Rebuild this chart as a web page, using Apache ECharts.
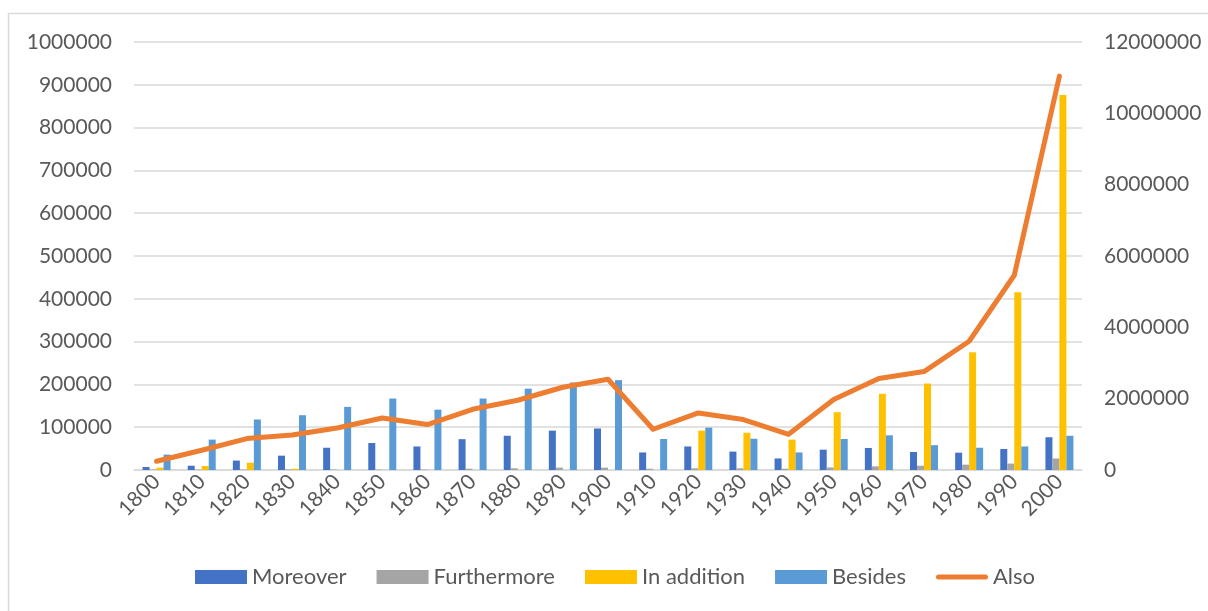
<!DOCTYPE html>
<html lang="en">
<head>
    <meta charset="UTF-8">
    <title>Moreover / Furthermore / In addition / Besides / Also</title>
    <script src="https://cdn.jsdelivr.net/npm/echarts@6/dist/echarts.min.js"></script>
    <style>
        html, body { margin: 0; padding: 0; background: #fff; }
    </style>
</head>
<body>
    <div id="main" style="width: 1208px;height:611px;"></div>
    <script type="text/javascript">
        var myChart = echarts.init(document.getElementById('main'));

        // decades on the x axis
        let years = ['1800', '1810', '1820', '1830', '1840', '1850', '1860', '1870', '1880', '1890', '1900',
                     '1910', '1920', '1930', '1940', '1950', '1960', '1970', '1980', '1990', '2000'];

        // bar series (left axis)
        let moreover = [7000, 10000, 22000, 33500, 52000, 63000, 55000, 72000, 80000, 92000, 97000,
                        41000, 55000, 43000, 27000, 47500, 51500, 42000, 40500, 49000, 76500];
        let furthermore = [1000, 1000, 1000, 1500, 1000, 1000, 1000, 3000, 4000, 5500, 5500,
                           3000, 4000, 4000, 3000, 6000, 8500, 10000, 12500, 15000, 27000];
        let inAddition = [5500, 9400, 17000, 3000, 0, 0, 0, 0, 0, 0, 0,
                          0, 92000, 87000, 71000, 135000, 178000, 202000, 275000, 415500, 876000];
        let besides = [36000, 71000, 118000, 128000, 147500, 167000, 141000, 167000, 190000, 204500, 210000,
                       72500, 99000, 73000, 41000, 72500, 81000, 58000, 52000, 55000, 80000];

        // line series (right axis)
        let also = [244000, 553000, 880000, 982000, 1178000, 1459000, 1273000, 1703000, 1955000, 2320000, 2544000,
                    1142000, 1599000, 1414000, 1001000, 1975000, 2564000, 2760000, 3610000, 5461000, 11044000];

        let txt = '#595959';
        let fontFam = 'Lato, "Open Sans", sans-serif';
        let plain = (v) => String(v); // no thousands separators

        let barSeries = (name, data, color) => ({
            name: name,
            type: 'bar',
            yAxisIndex: 0,
            barWidth: 7,
            barGap: '0%',
            itemStyle: { color: color },
            data: data,
        });

        let option = {
            animation: false,
            textStyle: { fontFamily: fontFam },
            graphic: [{
                type: 'rect',
                shape: { x: 8.5, y: 13.5, width: 1230, height: 640 },
                style: { fill: 'none', stroke: '#d9d9d9', lineWidth: 1.5 },
                silent: true,
            }],
            legend: {
                bottom: 18,
                left: 190,
                itemWidth: 52,
                itemHeight: 14,
                itemGap: 30,
                textStyle: { color: txt, fontSize: 22, fontFamily: fontFam },
                data: [
                    { name: 'Moreover', icon: 'rect' },
                    { name: 'Furthermore', icon: 'rect' },
                    { name: 'In addition', icon: 'rect' },
                    { name: 'Besides', icon: 'rect' },
                    { name: 'Also', icon: 'path://M2.5,0 L49.5,0 A2.5,2.5 0 0 1 49.5,5 L2.5,5 A2.5,2.5 0 0 1 2.5,0 Z' },
                ],
            },
            grid: {
                left: 134,
                right: 126,
                top: 42,
                bottom: 141,
            },
            xAxis: {
                type: 'category',
                data: years,
                axisTick: { show: false },
                axisLine: { lineStyle: { color: '#d9d9d9', width: 1.5 } },
                axisLabel: {
                    color: txt,
                    fontSize: 21,
                    rotate: 45,
                    margin: 8,
                    interval: 0,
                },
            },
            yAxis: [
                {
                    type: 'value',
                    min: 0,
                    max: 1000000,
                    interval: 100000,
                    axisLabel: { color: txt, fontSize: 21, margin: 22, formatter: plain },
                    splitLine: { lineStyle: { color: '#d9d9d9', width: 1.5 } },
                },
                {
                    type: 'value',
                    min: 0,
                    max: 12000000,
                    interval: 2000000,
                    axisLabel: { color: txt, fontSize: 21, margin: 22, formatter: plain },
                    splitLine: { show: false },
                },
            ],
            series: [
                barSeries('Moreover', moreover, '#4472C4'),
                barSeries('Furthermore', furthermore, '#A5A5A5'),
                barSeries('In addition', inAddition, '#FFC000'),
                barSeries('Besides', besides, '#5B9BD5'),
                {
                    name: 'Also',
                    type: 'line',
                    yAxisIndex: 1,
                    symbol: 'none',
                    lineStyle: { color: '#ED7D31', width: 5, cap: 'round', join: 'round' },
                    itemStyle: { color: '#ED7D31' },
                    data: also,
                },
            ],
        };

        myChart.setOption(option);
    </script>
</body>
</html>
